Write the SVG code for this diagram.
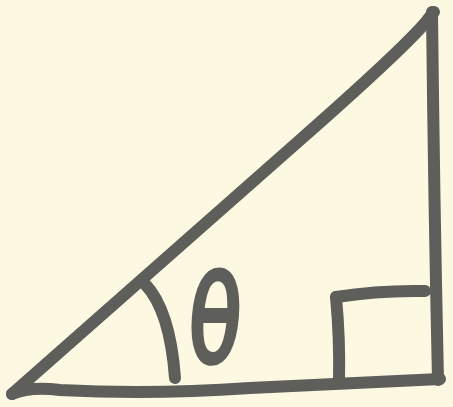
<svg xmlns="http://www.w3.org/2000/svg" width="453" height="407" viewBox="0 0 453 407">
<style>
.ln{fill:none;stroke:#5e5e5a;stroke-width:12;stroke-linecap:round;stroke-linejoin:round}
.lbl{font-family:"DejaVu Sans",sans-serif;fill:#5e5e5a;stroke:#5e5e5a;stroke-width:5;stroke-linejoin:round}
</style>
<rect width="453" height="407" fill="#fcf8e1"/>
<g id="connectors">
<path class="ln" d="M12,394 L300,140 Q400,52 426,22 Q431,15 434,12"/>
<path class="ln" d="M432,12 Q434,200 438,380"/>
<path class="ln" d="M12,394 Q30,386 60,390 Q150,395 250,388 Q350,383 440,379"/>
<path class="ln" d="M336,297 Q380,290 425,291"/>
<path class="ln" d="M336,297 Q340,340 339,380"/>
<path class="ln" d="M145,284 Q170,310 175,378"/>
</g>
<g id="theta">
<text class="lbl" x="215" y="362" text-anchor="middle" font-size="120" transform="translate(215,320) scale(0.72,1) skewX(-6) translate(-215,-320)">θ</text>
</g>
</svg>
